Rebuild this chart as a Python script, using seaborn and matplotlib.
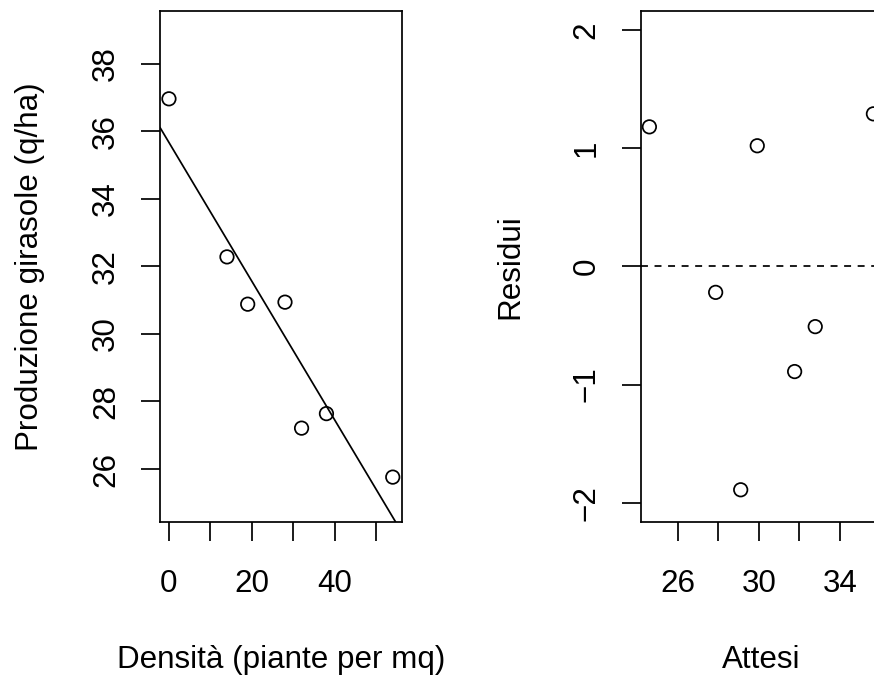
import numpy as np
import pandas as pd
import matplotlib
matplotlib.use("Agg")
import matplotlib.pyplot as plt
import seaborn as sns

# ---- data ----
densita = [0, 14, 19, 28, 32, 38, 54]
produzione = [36.96, 32.28, 30.88, 30.94, 27.21, 27.64, 25.76]
attesi = [35.67, 32.79, 31.77, 29.92, 29.10, 27.86, 24.58]
residui = [1.29, -0.51, -0.89, 1.02, -1.89, -0.22, 1.18]

x1_ticks = [0, 10, 20, 30, 40, 50]
x1_labels = ["0", "", "20", "", "40", ""]
y1_ticks = [26, 28, 30, 32, 34, 36, 38]
x2_ticks = [26, 28, 30, 32, 34, 36]
x2_labels = ["26", "", "30", "", "34", ""]
y2_ticks = [-2, -1, 0, 1, 2]
y2_labels = ["\u22122", "\u22121", "0", "1", "2"]

df1 = pd.DataFrame({"densita": densita, "produzione": produzione})
df2 = pd.DataFrame({"attesi": attesi, "residui": residui})

LW = 1.25
sns.set_theme(style="ticks", rc={
    "axes.edgecolor": "black", "axes.linewidth": LW,
    "xtick.color": "black", "ytick.color": "black",
    "text.color": "black", "axes.labelcolor": "black",
})
plt.rcParams["font.family"] = ["Liberation Sans", "DejaVu Sans"]

FS = 22.6
W, H = 874, 675
fig = plt.figure(figsize=(W / 100, H / 100), dpi=100)
ax1 = fig.add_axes([160 / W, 153.3 / H, 241.7 / W, 510.7 / H])
ax2 = fig.add_axes([640.5 / W, 153.3 / H, 241.8 / W, 510.7 / H])

mk = dict(marker="o", s=94, facecolor="none", edgecolor="black", linewidth=LW, zorder=3)

# left panel
sns.scatterplot(data=df1, x="densita", y="produzione", ax=ax1, **mk)
slope, intercept = np.polyfit(df1["densita"], df1["produzione"], 1)
ax1.axline((0, intercept), slope=slope, color="black", lw=LW, zorder=2)
ax1.set_xlim(-2.16, 56.16)
ax1.set_ylim(24.44, 39.56)
ax1.set_xticks(x1_ticks)
ax1.set_xticklabels(x1_labels)
ax1.set_yticks(y1_ticks)
ax1.set_yticklabels([str(v) for v in y1_ticks])
ax1.set_xlabel("Densità (piante per mq)", fontsize=FS)
ax1.set_ylabel("Produzione girasole (q/ha)", fontsize=FS)

# right panel
sns.scatterplot(data=df2, x="attesi", y="residui", ax=ax2, **mk)
ax2.axhline(0, color="black", lw=LW, dashes=(4.0, 3.8), zorder=2)
ax2.set_xlim(24.14, 36.11)
ax2.set_ylim(-2.16, 2.16)
ax2.set_xticks(x2_ticks)
ax2.set_xticklabels(x2_labels)
ax2.set_yticks(y2_ticks)
ax2.set_yticklabels(y2_labels)
ax2.set_xlabel("Attesi", fontsize=FS)
ax2.set_ylabel("Residui", fontsize=FS)

for ax in (ax1, ax2):
    for sp in ax.spines.values():
        sp.set_visible(True)
        sp.set_linewidth(LW)
        sp.set_color("black")
    ax.tick_params(axis="both", direction="out", length=14, width=LW, labelsize=FS)
    ax.tick_params(axis="x", pad=20)
    ax.tick_params(axis="y", pad=14)
    for lab in ax.get_yticklabels():
        lab.set_rotation(90)
        lab.set_va("center")
    ax.xaxis.set_label_coords(0.5, -0.2414)
    ax.yaxis.set_label_coords(-115 / 241.7, 0.5)
    ax.grid(False)

fig.savefig("out.png", dpi=100)
